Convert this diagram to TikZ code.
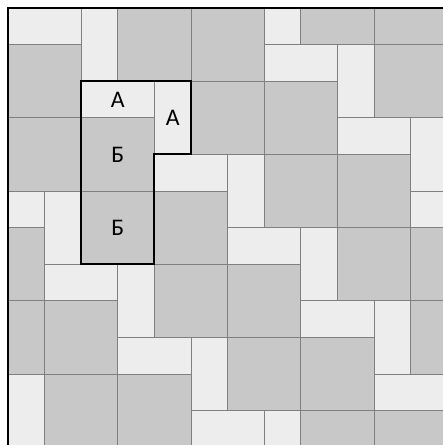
\documentclass[tikz,border=0pt]{standalone}
\usepackage{fontspec}
\setmainfont{Carlito}
\definecolor{tilegray}{HTML}{C8C8C8}
\definecolor{tilelight}{HTML}{EDEDED}
\tikzset{
    tile/.style={draw=black!50, line width=0.7pt},
    graytile/.style={tile, fill=tilegray},
    lighttile/.style={tile, fill=tilelight},
    outline/.style={draw=black, line width=1.5pt, line join=miter},
    frame/.style={draw=black, line width=1.9pt},
    letter/.style={font=\fontsize{18.5}{22}\selectfont, inner sep=0pt}
}

\begin{document}
\begin{tikzpicture}[y=-1cm]
    \useasboundingbox (-0.219,-0.219) rectangle (11.885,11.94);
    \begin{scope}
        \clip (0,0) rectangle (12,12);
        \foreach \xa/\ya/\xb/\yb in {0/0/2/1, 2/0/3/2, 7/-1/8/1, 7/1/9/2, 9/1/10/3, 2/2/4/3, 4/2/5/4,
            9/3/11/4, 11/3/12/5, 4/4/6/5, 6/4/7/6, -1/5/1/6, 1/5/2/7, 11/5/13/6, 6/6/8/7, 8/6/9/8,
            1/7/3/8, 3/7/4/9, 8/8/10/9, 10/8/11/10, 3/9/5/10, 5/9/6/11, 0/10/1/12, 10/10/12/11,
            5/11/7/12, 7/11/8/13}
            \draw[lighttile] (\xa,\ya) rectangle (\xb,\yb);
        \foreach \xa/\ya in {0/1, 3/0, 5/0, 8/-1, 10/-1, 10/1, 0/3, 2/3, 5/2, 7/2, 2/5, 4/5, 7/4, 9/4,
            -1/6, 4/7, 11/6, 9/6, 6/7, -1/8, 1/8, 11/8, 6/9, 8/9, 1/10, 3/10, 8/11, 10/11}
            \draw[graytile] (\xa,\ya) rectangle ++(2,2);
    \end{scope}
    \draw[outline] (2,2) -- (5,2) -- (5,4) -- (4,4) -- (4,7) -- (2,7) -- cycle;
    \draw[frame] (0,0) rectangle (12,12);

    \node[letter] (a1) at (3,2.5) {А};
    \node[letter] (a2) at (4.5,3) {А};
    \node[letter] (b1) at (3,4) {Б};
    \node[letter] (b2) at (3,6) {Б};
\end{tikzpicture}
\end{document}
